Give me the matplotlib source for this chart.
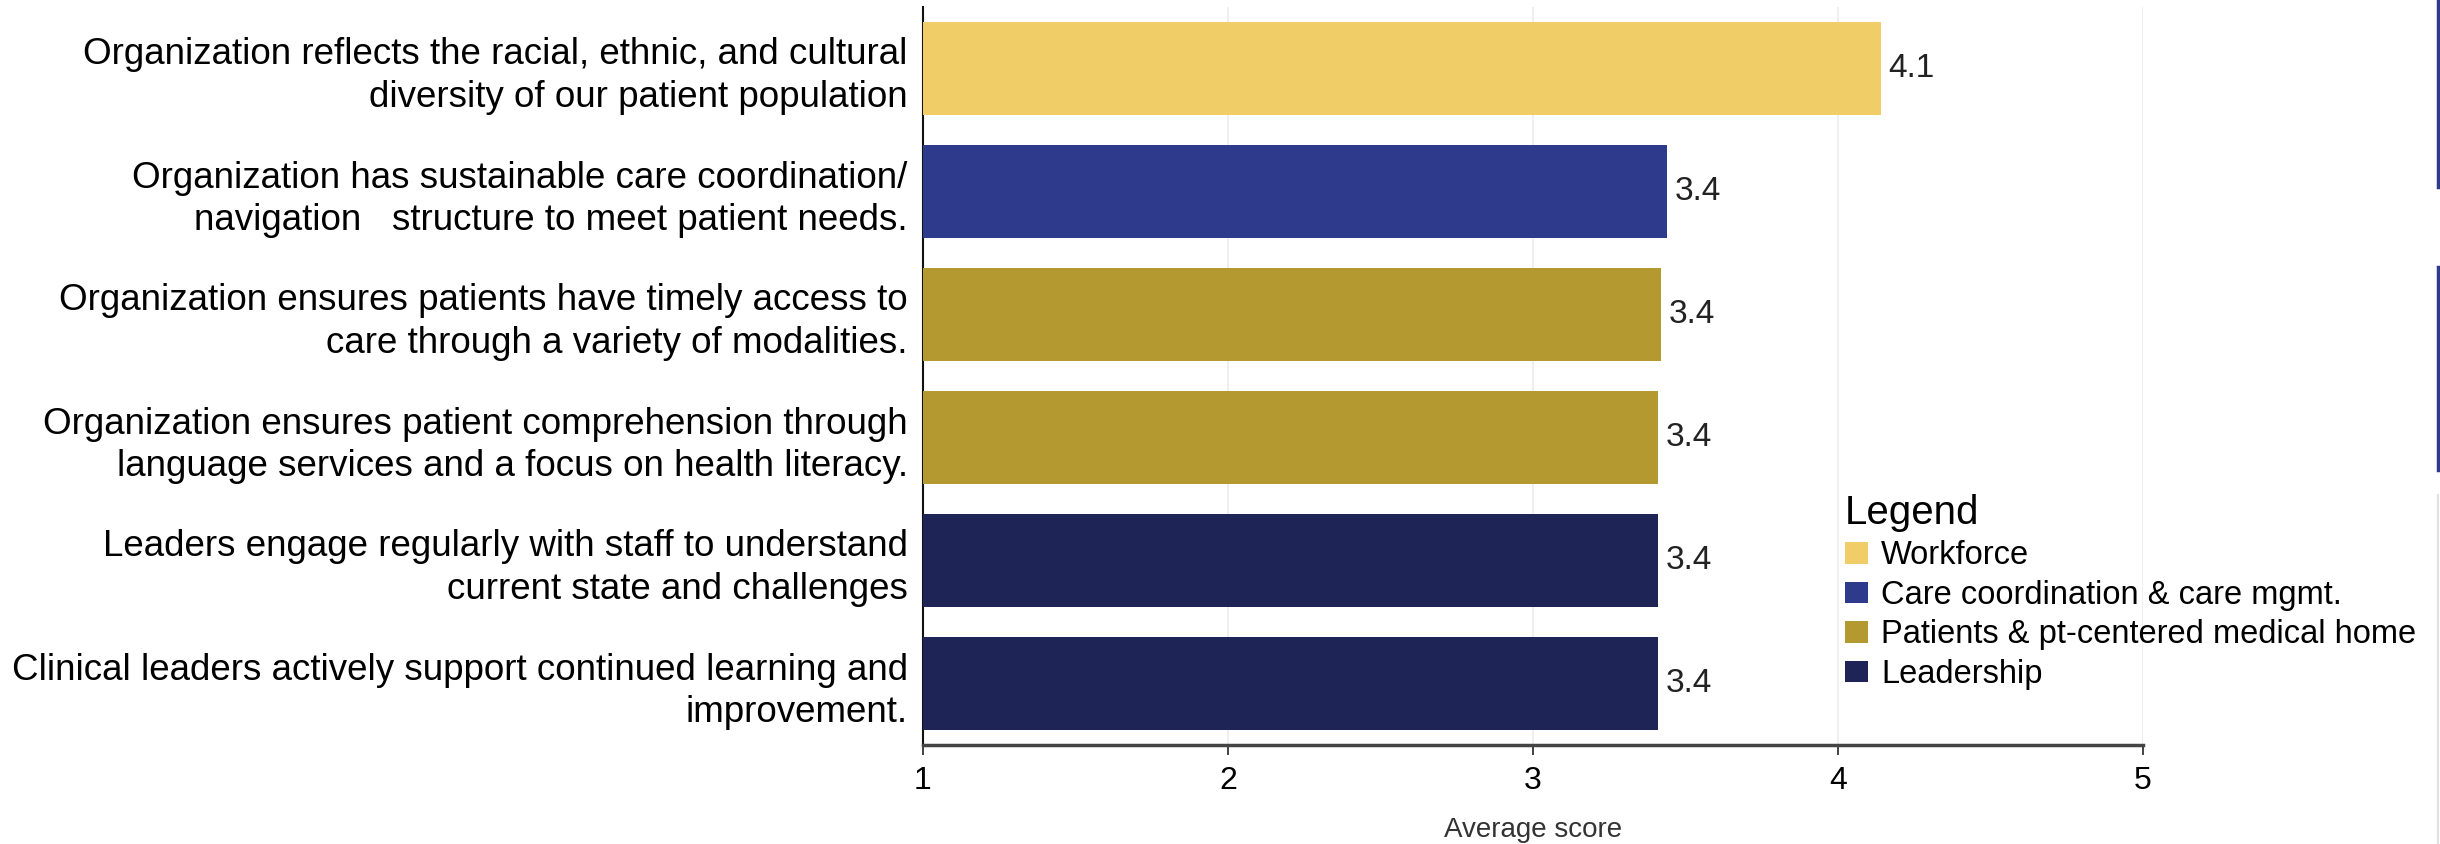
import numpy as np
import matplotlib.pyplot as plt
from matplotlib.patches import Patch
from matplotlib.lines import Line2D

questions = [
    "Organization reflects the racial, ethnic, and cultural\ndiversity of our patient population",
    "Organization has sustainable care coordination/\nnavigation   structure to meet patient needs.",
    "Organization ensures patients have timely access to\ncare through a variety of modalities.",
    "Organization ensures patient comprehension through\nlanguage services and a focus on health literacy.",
    "Leaders engage regularly with staff to understand\ncurrent state and challenges",
    "Clinical leaders actively support continued learning and\nimprovement.",
]
scores = [4.14, 3.44, 3.42, 3.41, 3.41, 3.41]
groups = ["Workforce", "Care coordination & care mgmt.", "Patients & pt-centered medical home",
          "Patients & pt-centered medical home", "Leadership", "Leadership"]

legend_names = ["Workforce", "Care coordination & care mgmt.",
                "Patients & pt-centered medical home", "Leadership"]
colors = {
    "Workforce": "#F0CD67",
    "Care coordination & care mgmt.": "#2E3A8C",
    "Patients & pt-centered medical home": "#B3992F",
    "Leadership": "#1F2456",
}
x_ticks = [1, 2, 3, 4, 5]

plt.rcParams['font.family'] = ['Liberation Sans', 'DejaVu Sans']


def main():
    fig = plt.figure(figsize=(24.4, 8.44), dpi=100)
    ax = fig.add_axes([923 / 2440, 1 - 745 / 844, 1220 / 2440, 738 / 844])

    y = np.arange(len(questions))
    bar_colors = [colors[g] for g in groups]
    ax.barh(y, np.array(scores) - 1, left=1, height=0.75, color=bar_colors, zorder=3)

    for yi, s in zip(y, scores):
        ax.text(s + 0.025, yi, f"{s:.1f}", va="center", ha="left", fontsize=24, color="#222222")

    ax.set_ylim(len(questions) - 0.5, -0.5)
    ax.set_xlim(1, 5)
    ax.set_yticks(y)
    ax.set_yticklabels(questions, fontsize=26.5, linespacing=1.28)
    ax.tick_params(axis="y", length=0, pad=11)
    ax.set_xticks(x_ticks)
    ax.set_xticklabels([str(t) for t in x_ticks], fontsize=23)
    ax.tick_params(axis="x", length=7, width=1.2, pad=8, color="#222222")
    ax.set_xlabel("Average score", fontsize=20, color="#333333", labelpad=15)

    ax.grid(axis="x", color="#ECECEC", linewidth=1.2, zorder=0)
    ax.spines["top"].set_visible(False)
    ax.spines["right"].set_visible(False)
    ax.spines["left"].set_color("#111111")
    ax.spines["left"].set_linewidth(1.5)
    ax.spines["bottom"].set_color("#444444")
    ax.spines["bottom"].set_linewidth(2.5)

    handles = [Patch(facecolor=colors[n], edgecolor="none") for n in legend_names]
    leg = fig.legend(handles, legend_names, title="Legend", loc="upper left",
                     bbox_to_anchor=(1845 / 2440, 1 - 494 / 844), frameon=False,
                     fontsize=23.5, title_fontsize=29, handlelength=0.7, handleheight=0.65,
                     handletextpad=0.4, labelspacing=0.26, borderpad=0, borderaxespad=0)
    leg._legend_box.align = "left"

    # scrollbar-like strip at the right edge
    fig.add_artist(Line2D([2438 / 2440] * 2, [1, 1 - 187 / 844], color="#2E3A8C", linewidth=2.5))
    fig.add_artist(Line2D([2438 / 2440] * 2, [1 - 267 / 844, 1 - 470 / 844], color="#2E3A8C", linewidth=2.5))
    fig.add_artist(Line2D([2438 / 2440] * 2, [1 - 495 / 844, 0], color="#E0E0E0", linewidth=1.5))

    plt.savefig("out.png", dpi=100)


if __name__ == "__main__":
    main()
